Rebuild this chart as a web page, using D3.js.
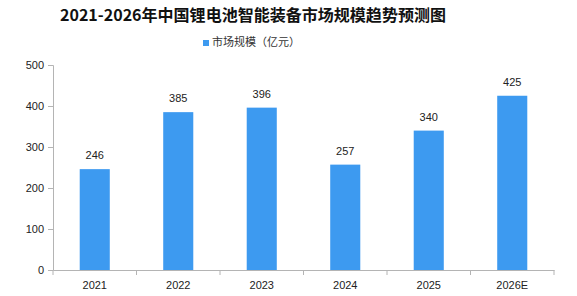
<!DOCTYPE html>
<html>
<head>
<meta charset="utf-8">
<script src="https://cdn.jsdelivr.net/npm/d3@7"></script>
<style>
  body { margin: 0; background: #fff; }
  text { font-family: "SimSun", "Liberation Sans", "Noto Sans CJK SC", sans-serif; }
</style>
</head>
<body>
<div id="chart"></div>
<script>
  // Data
  const years = ["2021", "2022", "2023", "2024", "2025", "2026E"];
  const marketSize = [246, 385, 396, 257, 340, 425];
  const yTicks = [0, 100, 200, 300, 400, 500];

  const title = "2021-2026年中国锂电池智能装备市场规模趋势预测图";
  const seriesName = "市场规模（亿元）";

  // Config
  const width = 577;
  const height = 296;
  const margin = { top: 65, bottom: 26, left: 53, right: 23 };
  const barColor = "#3d9af0";
  const axisColor = "#b4b4b4";

  const svg = d3.select("#chart")
    .append("svg")
    .attr("width", width)
    .attr("height", height);

  // Scales
  const xScale = d3.scaleBand()
    .domain(years)
    .range([margin.left, width - margin.right])
    .paddingInner(0.64)
    .paddingOuter(0.32);

  const yScale = d3.scaleLinear()
    .domain([0, 500])
    .range([height - margin.bottom, margin.top]);

  // Title
  svg.append("text")
    .attr("x", 253)
    .attr("y", 21)
    .attr("text-anchor", "middle")
    .attr("font-size", 16)
    .attr("font-weight", "bold")
    .attr("textLength", 386)
    .attr("lengthAdjust", "spacingAndGlyphs")
    .style("font-family", '"Noto Sans CJK SC", sans-serif')
    .attr("fill", "#111")
    .text(title);

  // Legend
  const legend = svg.append("g").attr("transform", "translate(203, 40)");
  legend.append("rect")
    .attr("width", 6).attr("height", 6)
    .attr("y", 0)
    .attr("fill", barColor);
  legend.append("text")
    .attr("x", 9).attr("y", 6)
    .attr("font-size", 11)
    .style("font-family", '"Noto Sans CJK SC", sans-serif')
    .attr("fill", "#333")
    .text(seriesName);

  // Axes
  const xAxis = d3.axisBottom(xScale).tickSize(0).tickPadding(11);
  const yAxis = d3.axisLeft(yScale).tickValues(yTicks).tickSize(5).tickPadding(4);

  const gx = svg.append("g")
    .attr("transform", `translate(0, ${height - margin.bottom})`)
    .call(xAxis);
  gx.select(".domain").attr("stroke", axisColor);
  gx.selectAll(".tick text").attr("font-size", 11).attr("fill", "#222");

  // category boundary ticks
  const bounds = d3.range(years.length + 1).map(i => margin.left + i * xScale.step());
  gx.selectAll("line.bound")
    .data(bounds)
    .join("line")
    .attr("class", "bound")
    .attr("x1", d => d).attr("x2", d => d)
    .attr("y1", 0).attr("y2", 5)
    .attr("stroke", axisColor);

  const gy = svg.append("g")
    .attr("transform", `translate(${margin.left}, 0)`)
    .call(yAxis);
  gy.select(".domain").attr("stroke", axisColor);
  gy.selectAll(".tick line").attr("stroke", axisColor);
  gy.selectAll(".tick text").attr("font-size", 11).attr("fill", "#222");

  // Bars
  const data = years.map((y, i) => ({ year: y, value: marketSize[i] }));

  svg.append("g")
    .selectAll("rect.bar")
    .data(data)
    .join("rect")
    .attr("class", "bar")
    .attr("x", d => xScale(d.year))
    .attr("y", d => yScale(d.value))
    .attr("width", xScale.bandwidth())
    .attr("height", d => yScale(0) - yScale(d.value))
    .attr("fill", barColor);

  // Value labels
  svg.append("g")
    .selectAll("text.label")
    .data(data)
    .join("text")
    .attr("class", "label")
    .attr("x", d => xScale(d.year) + xScale.bandwidth() / 2)
    .attr("y", d => yScale(d.value) - 10)
    .attr("text-anchor", "middle")
    .attr("font-size", 11)
    .attr("fill", "#222")
    .text(d => d.value);

  gx.raise();
</script>
</body>
</html>
